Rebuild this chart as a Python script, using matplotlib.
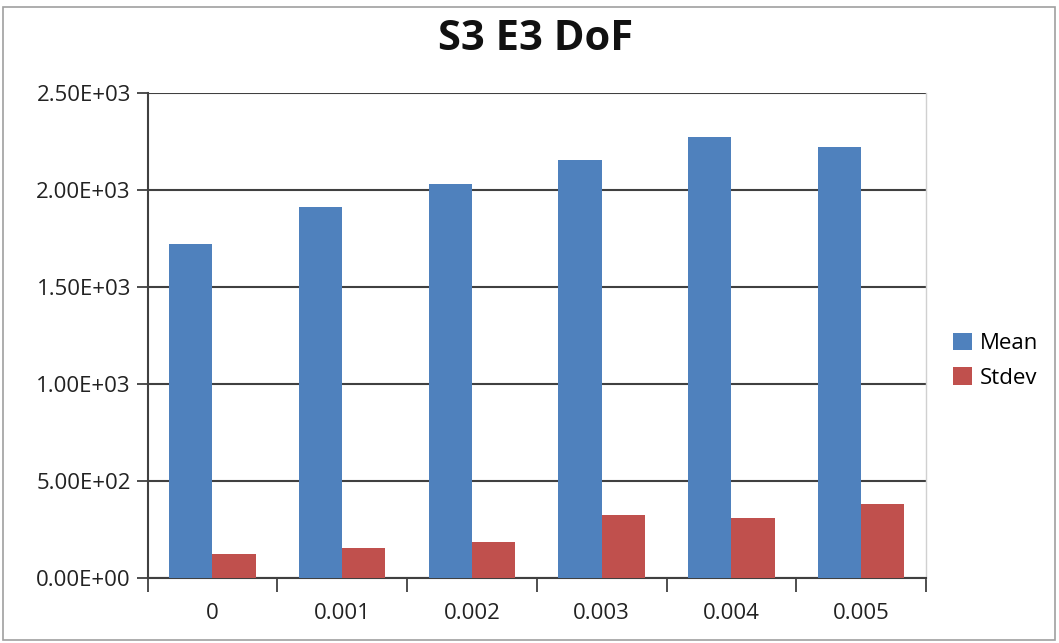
import matplotlib
matplotlib.use("Agg")
import matplotlib.pyplot as plt
from matplotlib.patches import Rectangle
import numpy as np

categories = ["0", "0.001", "0.002", "0.003", "0.004", "0.005"]
mean_vals = [1720, 1910, 2029, 2154, 2274, 2221]
stdev_vals = [124, 156, 188, 326, 309, 381]
yticks = [0, 500, 1000, 1500, 2000, 2500]

plt.rcParams["font.family"] = ["Open Sans", "DejaVu Sans"]

W, H = 1059, 643
fig = plt.figure(figsize=(W / 100, H / 100), dpi=100)
fig.patches.append(Rectangle((3 / W, 3 / H), (W - 7) / W, (H - 10) / H,
                             transform=fig.transFigure, fill=False,
                             edgecolor="#a0a0a0", linewidth=1.2))

left, right, top, bottom = 147.5, 926, 92.7, 578.3
ax = fig.add_axes([left / W, 1 - bottom / H, (right - left) / W, (bottom - top) / H])

x = np.arange(len(categories))
bw = 1 / 3
ax.bar(x - bw / 2, mean_vals, width=bw, color="#4f81bd", label="Mean", zorder=3)
ax.bar(x + bw / 2, stdev_vals, width=bw, color="#c0504d", label="Stdev", zorder=3)

ax.set_xlim(-0.5, len(categories) - 0.5)
ax.set_ylim(0, 2500)
ax.set_yticks(yticks)
ax.set_yticklabels([f"{v:.2E}" for v in yticks], fontsize=16, color="#222222")
ax.yaxis.grid(True, color="#404040", linewidth=1.5, zorder=0)

ax.set_xticks(x)
ax.set_xticklabels(categories, fontsize=16, color="#222222")
ax.set_xticks(np.arange(len(categories) + 1) - 0.5, minor=True)
ax.tick_params(axis="x", which="major", length=0, pad=18)
ax.tick_params(axis="x", which="minor", length=10, width=1.3, color="#404040", direction="out")
ax.tick_params(axis="y", length=8, width=1.3, color="#404040", direction="out", pad=4)

for s in ["left", "bottom"]:
    ax.spines[s].set_color("#404040")
    ax.spines[s].set_linewidth(1.5)
ax.spines["top"].set_visible(False)
ax.spines["right"].set_color("#d0d0d0")
ax.spines["right"].set_linewidth(1.0)

fig.text(536 / W, 1 - 40 / H, "S3 E3 DoF", ha="center", va="center",
         fontsize=30, fontweight="bold", color="#111111")

leg = ax.legend(loc="center left", bbox_to_anchor=(1.012, 0.448), frameon=False,
                fontsize=16, handlelength=0.85, handleheight=0.85,
                handletextpad=0.35, labelspacing=0.58, borderpad=0.3)

fig.savefig("out.png", dpi=100)
